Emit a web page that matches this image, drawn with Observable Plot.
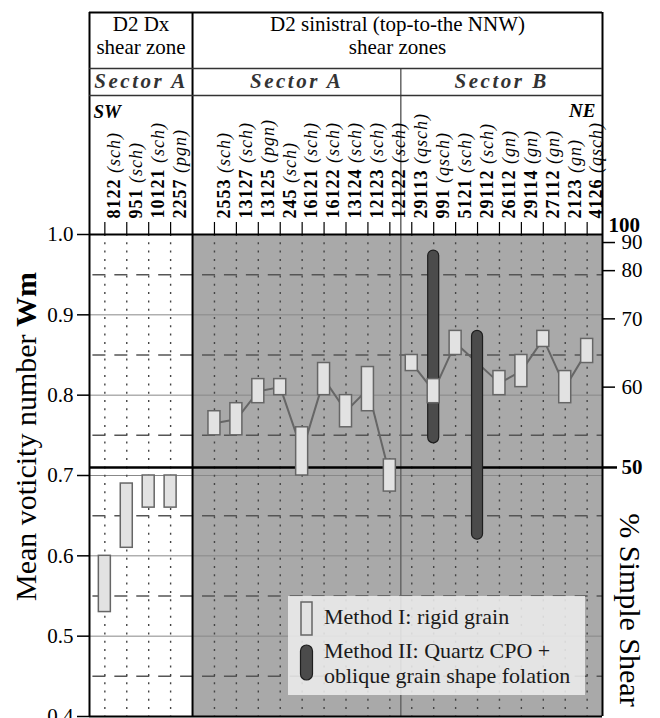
<!DOCTYPE html>
<html><head><meta charset="utf-8">
<script src="https://cdn.jsdelivr.net/npm/d3@7"></script>
<script src="https://cdn.jsdelivr.net/npm/@observablehq/plot@0.6"></script>
<style>
html,body{margin:0;padding:0;background:#fff;overflow:hidden;}
#chart{position:relative;width:660px;height:718px;}
</style></head><body><div id="chart"></div>
<script>
// ---- data ----
const samples   = ["8122","951","10121","2257","2553","13127","13125","245","16121","16122","13124","12123","12122","29113","991","5121","29112","26112","29114","27112","2123","4126"];
const rockTypes = ["sch","sch","sch","pgn","sch","sch","pgn","sch","sch","sch","sch","sch","sch","qsch","qsch","sch","sch","gn","gn","gn","gn","qsch"];
const slots     = [0,1,2,3,5,6,7,8,9,10,11,12,13,14,15,16,17,18,19,20,21,22];
const groups    = ["Dx","Dx","Dx","Dx","A","A","A","A","A","A","A","A","A","B","B","B","B","B","B","B","B","B"];
const rigidLow  = [0.53,0.61,0.66,0.66,0.75,0.75,0.79,0.80,0.70,0.80,0.76,0.78,0.68,0.83,0.79,0.85,null,0.80,0.81,0.86,0.79,0.84];
const rigidHigh = [0.60,0.69,0.70,0.70,0.78,0.79,0.82,0.82,0.76,0.84,0.80,0.835,0.72,0.85,0.82,0.88,null,0.83,0.85,0.88,0.83,0.87];
const cpoSamples = ["991","29112"];
const cpoLow     = [0.74,0.62];
const cpoHigh    = [0.98,0.88];
const wmTicks    = [0.4,0.5,0.6,0.7,0.8,0.9,1.0];
const shearLabels = ["90","80","70","60"];
const shearWm     = [0.99,0.955,0.895,0.81];
const halfShearWm = [0.71];   // 50 % simple shear
const gridMajor  = [0.5,0.6,0.7,0.8,0.9];
const gridMinor  = [0.45,0.55,0.65,0.75,0.85,0.95];
const columnBounds = [-0.7, 4, 22.7];
const sectorBound  = 13.5;
const headerTitles = ["D2 Dx\nshear zone", "D2 sinistral (top-to-the NNW)\nshear zones"];
const sectorNames  = ["Sector A", "Sector A", "Sector B"];
const yTitle = "Mean voticity number Wm";
const rightTitle = "% Simple Shear";
const legendLabels = ["Method I: rigid grain", "Method II: Quartz CPO +", "oblique grain shape folation"];

// ---- tables ----
const rows = samples.map((s,i)=>({sample:s, rock:rockTypes[i], slot:slots[i], group:groups[i], lo:rigidLow[i], hi:rigidHigh[i]}));
const rigid = rows.filter(d=>d.lo!=null);
const cpo = cpoSamples.map((s,i)=>({slot: slots[samples.indexOf(s)], lo:cpoLow[i], hi:cpoHigh[i]}));
const headers = [
  {x:(columnBounds[0]+columnBounds[1])/2, label:headerTitles[0]},
  {x:(columnBounds[1]+columnBounds[2])/2, label:headerTitles[1]}
];
const sectors = [
  {x:(columnBounds[0]+columnBounds[1])/2, label:sectorNames[0]},
  {x:(columnBounds[1]+sectorBound)/2, label:sectorNames[1]},
  {x:(sectorBound+columnBounds[2])/2, label:sectorNames[2]}
];
const shearMap = new Map(shearWm.map((w,i)=>[w, shearLabels[i]]));
const FONT = "'Liberation Serif','Times New Roman',serif";

const chart = Plot.plot({
  width:660, height:718,
  marginTop:234, marginBottom:2, marginLeft:89, marginRight:58,
  style:{fontFamily:FONT, background:"white", color:"black"},
  x:{domain:[columnBounds[0], columnBounds[2]], axis:null},
  y:{domain:[0.4,1.0]},
  marks:[
    Plot.rect([{x1:columnBounds[1], x2:columnBounds[2]}], {x1:"x1", x2:"x2", fill:"#a9a9a9"}),
    Plot.ruleY(gridMajor, {stroke:"#888", strokeWidth:1}),
    Plot.ruleY(gridMinor, {stroke:"#555", strokeWidth:1.5, strokeDasharray:"13,8.92", strokeDashoffset:18.5}),
    Plot.ruleX(rows, {x:"slot", stroke:"#444", strokeWidth:1.4, strokeDasharray:"2,6.3"}),
    Plot.ruleX([sectorBound], {stroke:"#666", strokeWidth:1.5, insetTop:-166}),
    Plot.ruleY(halfShearWm, {stroke:"black", strokeWidth:2.5}),
    Plot.line(rigid.filter(d=>d.group!=="Dx"), {x:"slot", y:d=>(d.lo+d.hi)/2, z:"group", stroke:"#666", strokeWidth:2}),
    Plot.rect(cpo, {x1:"slot", x2:"slot", y1:"lo", y2:"hi", insetLeft:-5.5, insetRight:-5.5, rx:5.5, fill:"#4b4b4b", stroke:"#1e1e1e", strokeWidth:1.2}),
    Plot.rect(rigid, {x1:"slot", x2:"slot", y1:"lo", y2:"hi", insetLeft:-6, insetRight:-6, fill:"#e2e2e2", stroke:"#666", strokeWidth:1.5}),
    // table frame
    Plot.ruleX(columnBounds, {stroke:"black", strokeWidth:2, insetTop:-222}),
    Plot.ruleY([1.0, 0.4], {stroke:"black", strokeWidth:2}),
    Plot.ruleY([1.0], {stroke:"black", strokeWidth:2, dy:-222}),
    Plot.ruleY([1.0], {stroke:"#333", strokeWidth:1.5, dy:-166}),
    Plot.ruleY([1.0], {stroke:"#333", strokeWidth:1.5, dy:-139}),
    Plot.ruleX(rows, {x:"slot", stroke:"black", strokeWidth:1.2, insetTop:-12, insetBottom:482}),
    // header texts
    Plot.text(headers, {x:"x", text:"label", frameAnchor:"top", lineAnchor:"bottom", dy:-181, fontSize:21, lineHeight:1.06}),
    Plot.text(sectors, {x:"x", text:"label", frameAnchor:"top", lineAnchor:"bottom", dy:-147, fontSize:21, fontWeight:"bold", fontStyle:"italic", fill:"#333"}),
    Plot.text(["SW"], {text:d=>d, frameAnchor:"top-left", textAnchor:"start", lineAnchor:"bottom", dx:4, dy:-117, fontSize:19, fontWeight:"bold", fontStyle:"italic"}),
    Plot.text(["NE"], {text:d=>d, frameAnchor:"top-right", textAnchor:"end", lineAnchor:"bottom", dx:-7, dy:-118, fontSize:19, fontWeight:"bold", fontStyle:"italic"}),
    Plot.text(rows, {x:"slot", frameAnchor:"top", text:d=>`${d.sample} (${d.rock})`, rotate:-90, textAnchor:"start", dy:-16, dx:2.5, fontSize:18}),
    // axes
    Plot.axisY(wmTicks, {anchor:"left", tickFormat:d=>d.toFixed(1), tickSize:12, tickPadding:4, fontSize:21, strokeWidth:1.5, label:null}),
    Plot.axisY(shearWm, {anchor:"right", tickFormat:d=>shearMap.get(d), tickSize:12, tickPadding:7, fontSize:21, strokeWidth:1.5, label:null}),
    Plot.axisY(halfShearWm, {anchor:"right", tickFormat:()=>"50", tickSize:14, tickPadding:5, fontSize:21, fontWeight:"bold", strokeWidth:2.5, label:null}),
    Plot.text(["100"], {text:d=>d, frameAnchor:"top-right", textAnchor:"start", lineAnchor:"bottom", dx:6, dy:-3, fontSize:21, fontWeight:"bold"}),
    Plot.text([yTitle], {text:d=>d, frameAnchor:"left", textAnchor:"middle", rotate:-90, dx:-63.6, dy:-39, fontSize:30}),
    Plot.text([rightTitle], {text:d=>d, frameAnchor:"right", textAnchor:"middle", rotate:90, dx:27, dy:134.5, fontSize:30})
  ]
});
document.getElementById("chart").appendChild(chart);

const svg = d3.select(chart);
const sampleRe = /^(\d+)( \(\w+\))$/;
svg.selectAll("text").each(function(){
  const t = this.textContent;
  const m = t.match(sampleRe);
  if (m && this.children.length === 0) {
    this.textContent = "";
    this.setAttribute("letter-spacing", 1);
    d3.select(this).append("tspan").attr("font-weight","bold").text(m[1]);
    d3.select(this).append("tspan").attr("font-style","italic").text(m[2]);
  } else if (t === yTitle) {
    const k = t.lastIndexOf(" ");
    this.textContent = "";
    d3.select(this).append("tspan").text(t.slice(0,k+1));
    d3.select(this).append("tspan").attr("font-weight","bold").text(t.slice(k+1));
  } else if (sectorNames.includes(t)) {
    this.setAttribute("letter-spacing", 2.5);
  }
});

// legend
const lg = svg.append("g").attr("font-family", FONT).attr("font-size", 22).attr("fill","#1a1a1a").attr("text-anchor","start");
lg.append("rect").attr("x",288).attr("y",596).attr("width",297).attr("height",99).attr("fill","#ececec").attr("fill-opacity",0.88);
lg.append("rect").attr("x",301).attr("y",602).attr("width",11).attr("height",33).attr("fill","#e2e2e2").attr("stroke","#666").attr("stroke-width",1.5);
lg.append("rect").attr("x",300.5).attr("y",645).attr("width",12).attr("height",35).attr("rx",6).attr("fill","#4b4b4b").attr("stroke","#1e1e1e").attr("stroke-width",1.2);
lg.append("text").attr("x",324).attr("y",624).text(legendLabels[0]);
lg.append("text").attr("x",324).attr("y",658).text(legendLabels[1]);
lg.append("text").attr("x",324).attr("y",683).text(legendLabels[2]);
</script></body></html>
